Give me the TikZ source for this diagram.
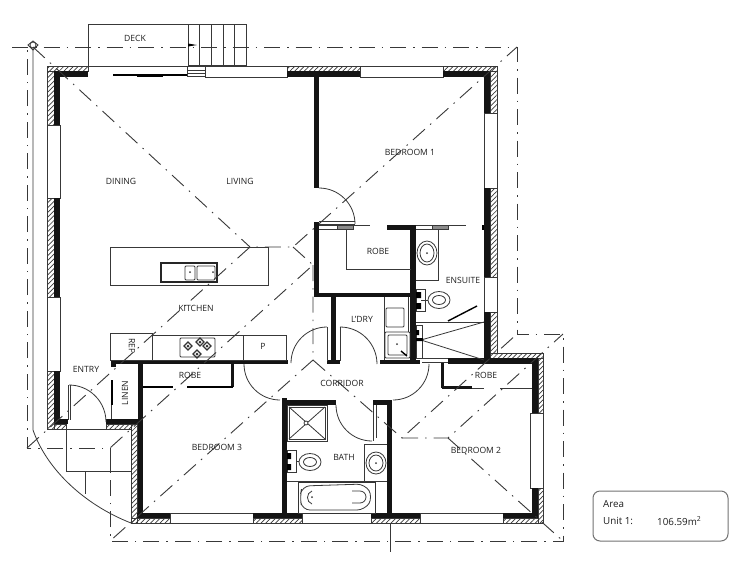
\documentclass[tikz,border=0pt]{standalone}
\usepackage{fontspec}
\setmainfont{Open Sans}
\usetikzlibrary{patterns.meta}
\definecolor{ink}{gray}{0.22}
\definecolor{labink}{gray}{0.12}
\tikzset{
  thinl/.style={draw=ink,line width=.8pt},
  heavyl/.style={draw=black,line width=1.4pt},
  solidw/.style={fill=black!92},
  hatchw/.style={draw=ink,line width=.5pt,pattern={Lines[angle=45,distance=3.4pt,line width=.7pt]},pattern color=ink},
  roofl/.style={draw=ink,line width=.9pt,dash pattern=on 16pt off 7pt on 1.5pt off 7pt},
  lab/.style={text=labink,font=\fontsize{8.6}{10}\selectfont,inner sep=0pt},
  areat/.style={text=labink,font=\fontsize{9.8}{11}\selectfont,inner sep=0pt,anchor=west},
  fixture/.style={draw=ink,line width=.8pt,fill=white}
}
\newcommand{\hw}[4]{\path[hatchw] (#1,#2) rectangle (#3,#4);}
\newcommand{\sw}[4]{\fill[solidw] (#1,#2) rectangle (#3,#4);}
\begin{document}
\begin{tikzpicture}[x=1pt,y=-1pt]
\useasboundingbox (0,0) rectangle (750,563);
\fill[white] (0,0) rectangle (750,563);
% outer thin lines
\draw[thinl] (33,47) -- (33,430) .. controls (47,470) and (85,505) .. (131,523);
% deck and stairs
\draw[thinl] (88,66) -- (88,24) -- (246,24) -- (246,65) -- (188,65);
\draw[thinl] (188,24) -- (188,66);
\foreach \xx in {199,211,223,234} \draw[thinl] (\xx,24) -- (\xx,65);
\draw[thinl] (88,66) -- (288,66) (205,77) -- (288,77);
\draw[thinl] (187,66) rectangle (205,76) (187,70) -- (205,70) (187,73) -- (205,73);
\draw[heavyl] (113,75) -- (187,75);
\draw[black,line width=1.8pt] (137,76) -- (163,76);
\fill[black] (197,45) -- (188,43.5) -- (188,46.5) -- cycle;
% windows
\foreach \a/\b/\c/\d in {47/125/60/198,47/297/60/371,360/66/443/77,484/113/497/188,484/277/497/312,530/413/543/488,170/513/253/523,302/513/371/523,420/513/503/523}
  \draw[thinl] (\a,\b) rectangle (\c,\d);
% hatched outer leaf
\hw{47}{66}{88}{71}\hw{47}{71}{54}{125}\hw{47}{198}{54}{297}\hw{47}{371}{54}{429}\hw{54}{424}{66}{429}
\hw{287}{66}{360}{71}\hw{443}{66}{497}{71}\hw{490}{71}{497}{113}\hw{490}{188}{497}{277}\hw{490}{312}{497}{353}
\hw{490}{353}{543}{358}\hw{538}{358}{543}{413}\hw{538}{488}{543}{523}
\hw{106}{424}{131}{429}\hw{131}{424}{137}{523}
\hw{131}{518}{170}{523}\hw{253}{518}{302}{523}\hw{371}{518}{420}{523}\hw{503}{518}{538}{523}
% solid walls
\sw{54}{71}{88}{77}\sw{54}{71}{60}{125}\sw{54}{198}{60}{297}\sw{54}{371}{60}{424}\sw{54}{419}{68}{424}
\sw{287}{71}{360}{76.5}\sw{443}{71}{490}{76.5}\sw{484}{71}{490}{113}\sw{484}{188}{490}{277}\sw{484}{312}{490}{363}
\sw{448}{358}{538}{363.5}\sw{532}{358}{538}{413}\sw{532}{488}{538}{518}
\sw{137}{513}{170}{518}\sw{253}{513}{302}{518}\sw{371}{513}{420}{518}\sw{503}{513}{538}{518}
\sw{106}{419}{143}{424}\sw{138}{363}{143}{518}
\sw{111}{360}{288}{364}\sw{111}{364}{116}{367}
\sw{314}{76}{319}{188}\sw{314}{222}{319}{297}\sw{314}{293}{416}{297}
\sw{410}{226}{416}{364}\sw{387}{225}{416}{230}\sw{331}{297}{336}{362}\sw{327}{360}{340}{364}
\sw{380}{360}{420}{364}
\sw{282}{398}{287}{518}\sw{282}{400}{336}{405}\sw{373}{400}{392}{405}\sw{387}{400}{392}{518}
\sw{231}{364}{234}{387}\sw{441}{363}{444}{388}\sw{442}{386}{472}{389}
% bedroom 1 door and robe sliders
\draw[thinl] (319,188) arc[start angle=-90,end angle=0,radius=36];
\draw[thinl] (319,221) -- (355,221) (319,224) -- (355,224);
\draw[thinl] (319,225) -- (370,225) (319,229) -- (353,229);
\draw[thinl,fill=black!45] (337,225) rectangle (353,229);
\draw[thinl] (416,225) -- (466,225) (416,229) -- (448,229);
\draw[thinl,fill=black!45] (432,225) rectangle (448,229);
\fill[black] (482,225) rectangle (484,230);
\draw[thinl] (346,229) -- (346,269) -- (411,269);
% ensuite
\draw[thinl] (416,280) -- (438,280) -- (438,229);
\draw[fixture] (427,253) ellipse[x radius=10,y radius=12];
\draw[thinl] (427,253) ellipse[x radius=7,y radius=9];
\fill[ink] (427,253) circle (1);
\draw[thinl] (416,289) rectangle (425,311);
\fill[black] (416,292) rectangle (421,298) (416,303) rectangle (421,309);
\draw[thinl] (421,300) -- (430,300);
\draw[fixture] (439,300) ellipse[x radius=11,y radius=8.5];
\draw[thinl] (439,300) ellipse[x radius=6.5,y radius=4.5];
\draw[thinl] (416,322) -- (484,322);
\draw[heavyl] (448,321) -- (477,306);
\draw[thinl] (421,340) -- (484,322) (421,340) -- (484,360);
\draw[thinl] (416,325) rectangle (422,358);
\fill[black] (416,330) rectangle (419,335) (416,338) rectangle (423,341);
\draw[thinl] (422,358.5) -- (448,358.5) (422,362.5) -- (448,362.5);
% laundry
\draw[thinl] (384,297) -- (384,360);
\draw[thinl] (408,297) -- (408,332);
\draw[thinl,rounded corners=1pt] (386,308) rectangle (404,327);
\draw[thinl,rounded corners=1pt] (385,332) rectangle (410,358);
\draw[thinl,rounded corners=1pt] (388,335) rectangle (407,355);
\fill[ink] (397,344) circle (1);
\draw[heavyl] (401,351) -- (407,356);
% corridor doors
\draw[thinl] (327,327) -- (327,361);
\draw[thinl] (340,327) -- (340,361);
\draw[thinl] (327,327) arc[start angle=-90,end angle=-180,radius=36];
\draw[thinl] (340,327) arc[start angle=-90,end angle=0,radius=37];
\draw[thinl] (244,364) arc[start angle=180,end angle=90,radius=36];
\draw[thinl] (429,364) arc[start angle=0,end angle=90,radius=36];
\draw[thinl] (336,405) arc[start angle=180,end angle=90,radius=36];
\draw[thinl] (373,405) -- (373,441) (376,405) -- (376,438);
% kitchen
\draw[thinl] (110,247) rectangle (268,285);
\draw[black!85,line width=1.2pt] (161,263) rectangle (217,282);
\draw[thinl,rounded corners=1pt] (185,266) rectangle (195,280) (197,266) rectangle (215,280);
\fill[ink] (190,272) circle (1) (213,272) circle (1);
\draw[thinl] (110,333) rectangle (152,360);
\draw[thinl] (152,335) rectangle (243,360);
\draw[thinl] (243,335) rectangle (286,360);
\draw[thinl,rounded corners=1pt] (180,338) rectangle (215,357);
\foreach \px/\py in {188/346,207/346,197/354,200/342}{
  \draw[line width=1.1pt,draw=black!80] (\px-4,\py) -- (\px,\py-4) -- (\px+4,\py) -- (\px,\py+4) -- cycle;
  \fill[black!80] (\px,\py) circle (1.5);}
% robe bedroom 3 and linen
\draw[black,line width=1.3pt] (143,387) -- (173,387) (187,387) -- (233,387);
\draw[black,line width=2pt] (201,387) -- (216,387);
\draw[thinl] (111,380) -- (111,419);
\draw[black,line width=1.6pt] (112,380) -- (112,405);
% entry door
\draw[thinl] (68,385) -- (68,420) (70,385) -- (70,420);
\draw[thinl] (69,385) arc[start angle=-90,end angle=0,radius=37];
% paving
\draw[thinl] (66,429) -- (131,429) (66,429) -- (66,471) -- (131,471) (110,448) -- (110,471) (85,471) -- (85,494);
% robe 2
\draw[thinl] (472,388) -- (484,388) (500,388) -- (532,388);
% bath
\draw[thinl] (287,405) rectangle (327,441);
\draw[thinl] (289,407) rectangle (325,439);
\draw[thinl] (289,407) -- (325,439) (325,407) -- (289,439);
\draw[fixture] (306,423) circle (2);
\draw[thinl] (287,450) rectangle (296,472);
\fill[black] (287,453) rectangle (291,459) (287,464) rectangle (291,470);
\draw[thinl] (296,461) -- (300,461);
\draw[fixture] (310,462) ellipse[x radius=11,y radius=8.5];
\draw[thinl] (310,462) ellipse[x radius=6.5,y radius=4.5];
\draw[thinl] (364,481) -- (364,444) -- (387,444);
\draw[fixture] (376,463) ellipse[x radius=10,y radius=11];
\draw[thinl] (376,463) ellipse[x radius=7,y radius=8];
\fill[ink] (376,463) circle (1);
\draw[thinl] (287,481) -- (387,481);
\draw[black!80,line width=1pt] (298,482) rectangle (375,513);
\draw[thinl,rounded corners=8pt] (302,486) -- (365,484) -- (373,497) -- (365,510) -- (302,510) -- (300,497) -- cycle;
\draw[thinl] (352,491) -- (360,491) arc[start angle=-90,end angle=90,radius=6] -- (352,503);
\draw[thinl] (312,491) .. controls (306,493) and (306,502) .. (312,504);
\fill[ink] (312,497) circle (1);
% area box
\draw[line width=1pt,draw=black!55,rounded corners=7pt] (593,491) rectangle (728,541);
% roof lines
\coordinate (rA) at (250,247);
\coordinate (rB) at (293,247);
\coordinate (rC) at (313,265);
\coordinate (rD) at (313,360);
\coordinate (rE) at (402,438);
\coordinate (rF) at (448,438);
\draw[roofl] (12,47) -- (517,47) -- (517,334) -- (563,334) -- (563,541) -- (110,541) -- (110,448) -- (27,448) -- (27,47);
\draw[roofl] (33,47) -- (rA);
\draw[roofl] (27,448) -- (rA) -- (rB) -- (517,47);
\draw[roofl] (rB) -- (rC) -- (110,448);
\draw[roofl] (rC) -- (rD) -- (110,541);
\draw[roofl] (rD) -- (rE) -- (517,334);
\draw[roofl] (rE) -- (rF) -- (563,334);
\draw[roofl] (rF) -- (563,541);
\draw[thinl] (390,524) -- (390,552);
% survey mark
\draw[thinl] (33,41) -- (38,45) -- (33,50) -- (28,45) -- cycle;
\draw[thinl] (33,45) circle (3);
% labels
\node[lab] (tdeck) at (135,38) {DECK};
\node[lab] (tdining) at (121,181) {DINING};
\node[lab] (tliving) at (240,181) {LIVING};
\node[lab] (tbed1) at (410,152) {BEDROOM 1};
\node[lab] (trobe1) at (378,251) {ROBE};
\node[lab] (tens) at (463,280) {ENSUITE};
\node[lab] (tkit) at (196,308) {KITCHEN};
\node[lab] (tldry) at (362,319) {L'DRY};
\node[lab,rotate=-90] (trep) at (132,346) {REP};
\node[lab] (tp) at (263,346) {P};
\node[lab] (tcorr) at (342,383) {CORRIDOR};
\node[lab] (trobe3) at (190,375) {ROBE};
\node[lab] (tentry) at (86,369) {ENTRY};
\node[lab,rotate=90] (tlinen) at (125,393) {LINEN};
\node[lab] (tbed3) at (217,447) {BEDROOM 3};
\node[lab] (tbath) at (344,457) {BATH};
\node[lab] (trobe2) at (486,375) {ROBE};
\node[lab] (tbed2) at (476,450) {BEDROOM 2};
\node[areat] (tarea) at (603,504) {Area};
\node[areat] (tunit) at (603,521) {Unit 1:};
\node[areat] (tval) at (657,521) {106.59m\textsuperscript{2}};
\end{tikzpicture}
\end{document}
